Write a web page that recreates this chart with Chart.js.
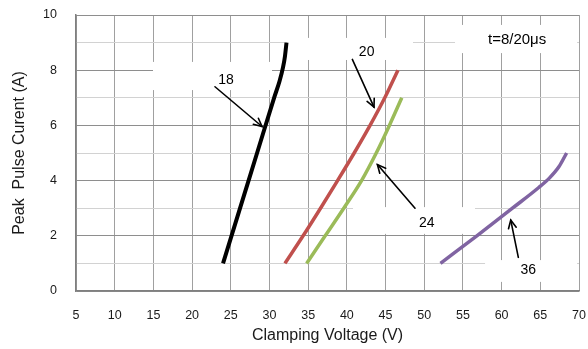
<!DOCTYPE html>
<html>
<head>
<meta charset="utf-8">
<script src="https://cdn.jsdelivr.net/npm/chart.js@4"></script>
<style>
html,body{margin:0;padding:0;background:#fff;}
#wrap{width:588px;height:349px;}
</style>
</head>
<body>
<div id="wrap"><canvas id="c" width="588" height="349"></canvas></div>
<script>
// Series: clamping voltage (V) vs peak pulse current (A)
const v18 = [24.0, 26.2, 28.4, 30.6, 31.3, 31.75, 32.0, 32.2];
const i18 = [1, 3, 5, 7, 7.6, 8.1, 8.5, 9];
const v20 = [32.0, 34.35, 36.6, 38.8, 40.95, 43.0, 44.9, 46.6];
const i20 = [1, 2, 3, 4, 5, 6, 7, 8];
const v24 = [34.8, 37.2, 39.6, 41.9, 43.8, 45.5, 47.1];
const i24 = [1, 2, 3, 4, 5, 6, 7];
const v36 = [52.1, 56.8, 61.4, 64.8, 66.2, 67.4, 68.4];
const i36 = [1, 2, 3, 3.75, 4.1, 4.5, 5];

const xTicks = [5, 10, 15, 20, 25, 30, 35, 40, 45, 50, 55, 60, 65, 70];
const yTicks = [0, 2, 4, 6, 8, 10];

// Callout labels (text, anchor in data units) and arrows (from -> to, data units)
const labelTexts = ['18', '20', '24', '36', 't=8/20μs'];
const labelX = [24.38, 42.56, 50.32, 63.45, 62.0];
const labelY = [7.64, 8.65, 2.45, 0.76, 9.09];
const arrowFromX = [22.96, 40.71, 48.81, 62.16];
const arrowFromY = [7.40, 8.39, 3.00, 1.22];
const arrowToX = [29.04, 43.51, 43.95, 61.18];
const arrowToY = [5.96, 6.66, 4.58, 2.57];
// white label backgrounds (data units)
const boxX0 = [14.95, 32.27, 40.8, 57.86, 53.98];
const boxX1 = [30.33, 48.55, 56.56, 69.75, 69.75];
const boxY0 = [7.28, 8.37, 2.07, 0.33, 8.62];
const boxY1 = [8.30, 9.17, 3.04, 1.12, 9.64];

function pts(xs, ys){ return xs.map((x,k)=>({x:x, y:ys[k]})); }

const calloutPlugin = {
  id: 'callouts',
  beforeDatasetsDraw(chart){
    const {ctx, scales:{x, y}} = chart;
    ctx.save();
    ctx.fillStyle = '#ffffff';
    for (let k=0;k<boxX0.length;k++){
      const px0 = x.getPixelForValue(boxX0[k]), px1 = x.getPixelForValue(boxX1[k]);
      const py0 = y.getPixelForValue(boxY1[k]), py1 = y.getPixelForValue(boxY0[k]);
      ctx.fillRect(px0, py0, px1-px0, py1-py0);
    }
    ctx.restore();
  },
  afterDatasetsDraw(chart){
    const {ctx, scales:{x, y}} = chart;
    ctx.save();
    ctx.strokeStyle = '#000';
    ctx.lineWidth = 1.6;
    ctx.lineCap = 'round';
    for (let k=0;k<arrowFromX.length;k++){
      const x0 = x.getPixelForValue(arrowFromX[k]), y0 = y.getPixelForValue(arrowFromY[k]);
      const x1 = x.getPixelForValue(arrowToX[k]), y1 = y.getPixelForValue(arrowToY[k]);
      ctx.beginPath(); ctx.moveTo(x0,y0); ctx.lineTo(x1,y1); ctx.stroke();
      const a = Math.atan2(y1-y0, x1-x0), L = 9, w = 0.45;
      ctx.beginPath();
      ctx.moveTo(x1 - L*Math.cos(a-w), y1 - L*Math.sin(a-w));
      ctx.lineTo(x1, y1);
      ctx.lineTo(x1 - L*Math.cos(a+w), y1 - L*Math.sin(a+w));
      ctx.stroke();
    }
    ctx.fillStyle = '#000';
    ctx.textAlign = 'center';
    ctx.textBaseline = 'middle';
    for (let k=0;k<labelTexts.length;k++){
      ctx.font = (k===4 ? '15px' : '14px') + ' "Liberation Sans", Arial, sans-serif';
      ctx.fillText(labelTexts[k], x.getPixelForValue(labelX[k]), y.getPixelForValue(labelY[k]));
    }
    ctx.restore();
  }
};

const font = {family: '"Liberation Sans", Arial, sans-serif'};

new Chart(document.getElementById('c'), {
  type: 'scatter',
  data: {
    datasets: [
      {label:'18', data: pts(v18,i18), borderColor:'#000000', borderWidth:4},
      {label:'20', data: pts(v20,i20), borderColor:'#C0504D', borderWidth:3.5},
      {label:'24', data: pts(v24,i24), borderColor:'#9BBB59', borderWidth:3.5},
      {label:'36', data: pts(v36,i36), borderColor:'#8064A2', borderWidth:3.5}
    ].map(d=>Object.assign(d,{showLine:true, pointRadius:0, pointHoverRadius:0, tension:0.3, cubicInterpolationMode:'monotone', borderCapStyle:'butt', fill:false}))
  },
  options: {
    responsive:false,
    animation:false,
    events:[],
    layout:{padding:{top:15, right:9, bottom:0, left:0}},
    plugins:{legend:{display:false}, tooltip:{enabled:false}},
    scales:{
      x:{
        type:'linear', min:5, max:70,
        afterBuildTicks(s){ s.ticks = xTicks.map(v=>({value:v})); },
        afterFit(s){ s.height = 58; s.paddingLeft = 0; s.paddingRight = 0; },
        ticks:{padding:17, color:'#1a1a1a', font:Object.assign({size:12.5},font), maxRotation:0},
        grid:{color:'#a0a0a0', lineWidth:1, drawTicks:false},
        border:{color:'#7f7f7f', width:1.5},
        title:{display:true, text:'Clamping Voltage (V)', color:'#1a1a1a', font:Object.assign({size:16},font), padding:{top:0,bottom:4}}
      },
      y:{
        type:'linear', min:0, max:10,
        afterBuildTicks(s){ s.ticks = [0,1,2,3,4,5,6,7,8,9,10].map(v=>({value:v})); },
        afterFit(s){ s.width = 76; s.paddingTop = 0; s.paddingBottom = 0; },
        ticks:{padding:19, color:'#1a1a1a', font:Object.assign({size:12.5},font),
          callback:(v)=> yTicks.includes(v) ? String(v) : ''},
        grid:{color:(c)=> (c.tick && c.tick.value % 2 === 0) ? '#8e8e8e' : '#d2d2d2', lineWidth:1, drawTicks:false},
        border:{color:'#7f7f7f', width:1.5},
        title:{display:true, text:'Peak  Pulse Curent (A)', color:'#1a1a1a', font:Object.assign({size:16},font), padding:{top:10,bottom:0}}
      }
    }
  },
  plugins:[calloutPlugin]
});
</script>
</body>
</html>
